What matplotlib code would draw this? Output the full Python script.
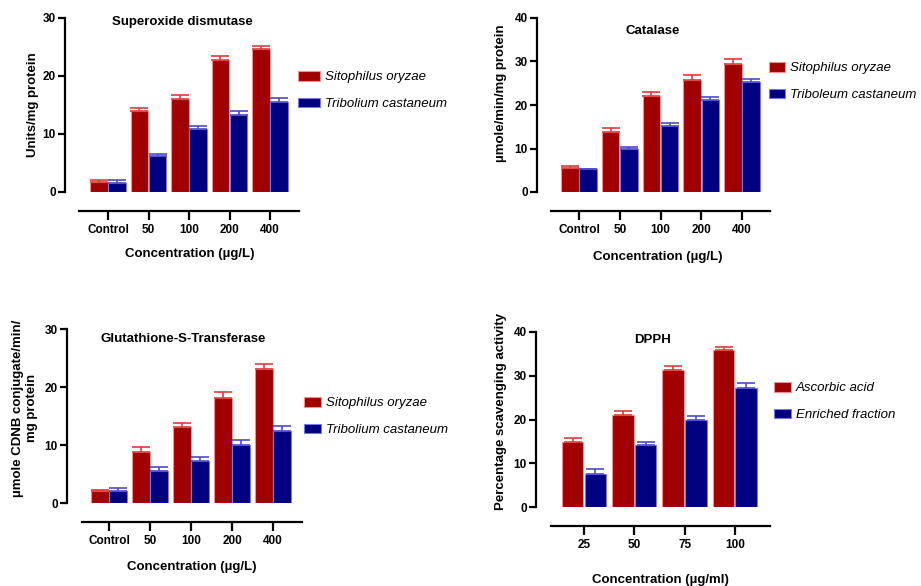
import numpy as np
import matplotlib.pyplot as plt
from matplotlib.patches import Patch

W, H = 921, 586

doses = ['Control', '50', '100', '200', '400']
dpph_conc = ['25', '50', '75', '100']

# Superoxide dismutase
sod_so = [1.8, 13.9, 16.1, 22.7, 24.6]
sod_so_err = [0.3, 0.6, 0.6, 0.7, 0.6]
sod_tc = [1.6, 6.2, 10.8, 13.2, 15.5]
sod_tc_err = [0.4, 0.4, 0.5, 0.7, 0.7]

# Catalase
cat_so = [5.6, 13.9, 22.0, 25.7, 29.5]
cat_so_err = [0.3, 0.7, 1.1, 1.2, 1.1]
cat_tc = [5.2, 9.8, 15.1, 21.15, 25.2]
cat_tc_err = [0.2, 0.6, 0.8, 0.7, 0.8]

# Glutathione-S-Transferase
gst_so = [2.0, 8.8, 13.05, 18.1, 23.1]
gst_so_err = [0.2, 0.9, 0.7, 1.1, 0.8]
gst_tc = [2.05, 5.55, 7.2, 10.0, 12.4]
gst_tc_err = [0.5, 0.7, 0.8, 0.8, 0.8]

# DPPH
dpph_aa = [14.9, 21.0, 31.3, 35.8]
dpph_aa_err = [0.9, 1.0, 1.0, 0.8]
dpph_ef = [7.65, 14.1, 19.9, 27.3]
dpph_ef_err = [1.15, 0.8, 0.8, 1.0]

RED, RED_EDGE, RED_ERR = '#a00000', '#f09090', '#e03a3a'
BLUE, BLUE_EDGE, BLUE_ERR = '#000080', '#7878e8', '#4c4cc8'

plt.rcParams['font.family'] = ['Liberation Sans', 'DejaVu Sans']

fig = plt.figure(figsize=(W / 100, H / 100), dpi=100)


def fx(x):
    return x / W


def fy(y):
    return 1 - y / H


def make(box, ticks_px, line_px, cats, a, aerr, b, berr, ymax, names, hl, leg_xy):
    # box = (y spine x, top y, right x, zero y) in pixels
    x0, ytop, x1, yzero = box
    t0, step = ticks_px
    lo = (line_px[0] - t0) / step
    hi = (line_px[1] - t0) / step
    left = (x0 - t0) / step

    ax = fig.add_axes([fx(x0), fy(yzero), (x1 - x0) / W, (yzero - ytop) / H])
    n = len(cats)
    x = np.arange(n)
    w = 0.43
    ax.bar(x - 0.225, a, w, color=RED, edgecolor=RED_EDGE, linewidth=0.8, zorder=2)
    ax.bar(x + 0.225, b, w, color=BLUE, edgecolor=BLUE_EDGE, linewidth=0.8, zorder=2)
    ax.errorbar(x - 0.225, a, yerr=[np.zeros(n), aerr], fmt='none', ecolor=RED_ERR,
                elinewidth=1.2, capsize=6.5, capthick=1.2, zorder=3)
    ax.errorbar(x + 0.225, b, yerr=[np.zeros(n), berr], fmt='none', ecolor=BLUE_ERR,
                elinewidth=1.2, capsize=6.5, capthick=1.2, zorder=3)

    ax.set_ylim(0, ymax)
    ax.set_xlim(left, hi)
    ax.set_yticks(np.arange(0, ymax + 1, 10))
    ax.set_xticks(x)
    ax.set_xticklabels(cats)
    for s in ['top', 'right']:
        ax.spines[s].set_visible(False)
    ax.spines['left'].set_linewidth(1.6)
    ax.spines['bottom'].set_linewidth(1.6)
    ax.spines['bottom'].set_position(('outward', 13.7))
    ax.spines['bottom'].set_bounds(lo, hi)
    ax.tick_params(axis='y', length=5, width=1.6, pad=1.5, labelsize=8.5)
    ax.tick_params(axis='x', length=6.5, width=1.6, pad=3, labelsize=8.5)
    for t in ax.get_xticklabels() + ax.get_yticklabels():
        t.set_fontweight('bold')

    handles = [Patch(facecolor=RED, edgecolor=RED_EDGE, linewidth=0.8),
               Patch(facecolor=BLUE, edgecolor=BLUE_EDGE, linewidth=0.8)]
    fig.legend(handles, names, loc='upper left',
               bbox_to_anchor=(fx(leg_xy[0]), fy(leg_xy[1])),
               frameon=False, borderpad=0, borderaxespad=0,
               handlelength=hl, handleheight=0.76, handletextpad=0.4,
               labelspacing=1.08, prop={'size': 9.5, 'style': 'italic'})
    return ax


make((65, 18, 299, 192), (108, 40.5), (79, 299), doses,
     sod_so, sod_so_err, sod_tc, sod_tc_err, 30,
     ['Sitophilus oryzae', 'Tribolium castaneum'], 1.65, (298, 71))
make((537, 18, 770, 192), (579, 40.75), (551, 770), doses,
     cat_so, cat_so_err, cat_tc, cat_tc_err, 40,
     ['Sitophilus oryzae', 'Triboleum castaneum'], 1.2, (769, 62))
make((67, 329, 302, 503), (109, 41), (82, 302), doses,
     gst_so, gst_so_err, gst_tc, gst_tc_err, 30,
     ['Sitophilus oryzae', 'Tribolium castaneum'], 1.27, (304, 397))
make((536, 332, 770, 507), (584, 50.3), (551, 770), dpph_conc,
     dpph_aa, dpph_aa_err, dpph_ef, dpph_ef_err, 40,
     ['Ascorbic acid', 'Enriched fraction'], 1.27, (774, 382))

lab = dict(fontsize=9.5, fontweight='bold', ha='center', va='center')
fig.text(fx(182), fy(22), 'Superoxide dismutase', **lab)
fig.text(fx(653), fy(31), 'Catalase', **lab)
fig.text(fx(183), fy(339), 'Glutathione-S-Transferase', **lab)
fig.text(fx(652), fy(340), 'DPPH', **lab)

fig.text(fx(190), fy(254), 'Concentration (µg/L)', **lab)
fig.text(fx(658), fy(257), 'Concentration (µg/L)', **lab)
fig.text(fx(192), fy(567), 'Concentration (µg/L)', **lab)
fig.text(fx(660), fy(580), 'Concentration (µg/ml)', **lab)

fig.text(fx(33), fy(105), 'Units/mg protein', rotation=90, **lab)
fig.text(fx(501), fy(93), 'µmole/min/mg protein', rotation=90, **lab)
fig.text(fx(25), fy(408), 'µmole CDNB conjugate/min/\nmg protein', rotation=90,
         linespacing=1.3, multialignment='center', **lab)
fig.text(fx(501), fy(411), 'Percentage scavenging activity', rotation=90, **lab)

fig.savefig('out.png', dpi=100)
